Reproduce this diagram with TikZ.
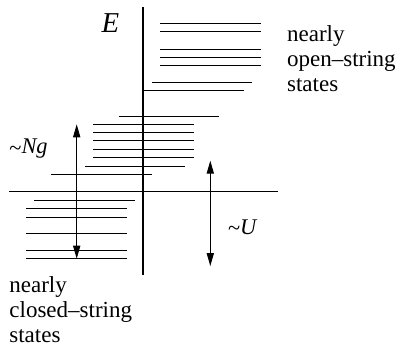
\documentclass[tikz,border=0pt]{standalone}
\usepackage{fontspec}
\setmainfont{Liberation Serif}
\usetikzlibrary{arrows.meta,positioning}
\newcommand{\gapTip}{Triangle[length=6.5pt,width=3.6pt]}
\newcommand{\approxTo}{\raisebox{-0.9pt}{\textasciitilde}}

\begin{document}
\begin{tikzpicture}[x=0.5pt,y=-0.5pt,
  level/.style={line width=0.5pt},
  axis/.style={line width=0.55pt},
  gaparrow/.style={line width=0.5pt,{\gapTip}-{\gapTip}},
  txt/.style={font=\fontsize{11.5}{12.6}\selectfont,align=left,inner sep=0pt},
  mlabel/.style={font=\fontsize{11.2}{12}\selectfont\itshape,inner sep=0pt,anchor=base west}]
\useasboundingbox (0,0) rectangle (401,345);
% axes
\draw[axis] (143,7) -- (143,275);
\draw[axis] (9,191.7) -- (277.7,191.7);
\node[font=\fontsize{14.4}{15}\selectfont\itshape,inner sep=0pt,anchor=base] (elabel) at (110.5,32.7) {E};
% nearly open-string levels
\foreach \y in {23.3,31.7,49,57,65.3} \draw[level] (160,\y) -- (260.7,\y);
\draw[level] (152.3,82) -- (252.3,82);
\draw[level] (143,90.3) -- (244,90.3);
% intermediate levels
\draw[level] (118.7,116) -- (219,116);
\foreach \y in {124.3,132.7,140.7,149,157.3} \draw[level] (93.3,\y) -- (193.5,\y);
\draw[level] (85.3,166) -- (185.3,166);
\draw[level] (51,174.5) -- (151.7,174.5);
% nearly closed-string levels
\draw[level] (34.3,200) -- (135,200);
\foreach \y in {208.7,217,233,250,258.7} \draw[level] (26,\y) -- (126.7,\y);
% gaps
\coordinate (ngtop) at (76.7,124.3);
\coordinate (ngbot) at (76.7,258.7);
\coordinate (utop) at (210.3,160.7);
\coordinate (ubot) at (210.3,266);
\draw[gaparrow] (ngtop) -- (ngbot);
\draw[gaparrow] (utop) -- (ubot);
\node[mlabel] (nglabel) at (9,153.3) {{\upshape\approxTo}Ng};
\node[mlabel] (ulabel) at (227.7,234) {{\upshape\approxTo}U};
% state labels
\node[txt,anchor=north west] (openlbl) at (286.7,25) {nearly\\open\textendash string\\states};
\node[txt,anchor=north west] (closedlbl) at (9,276) {nearly\\closed\textendash string\\states};
\end{tikzpicture}
\end{document}
